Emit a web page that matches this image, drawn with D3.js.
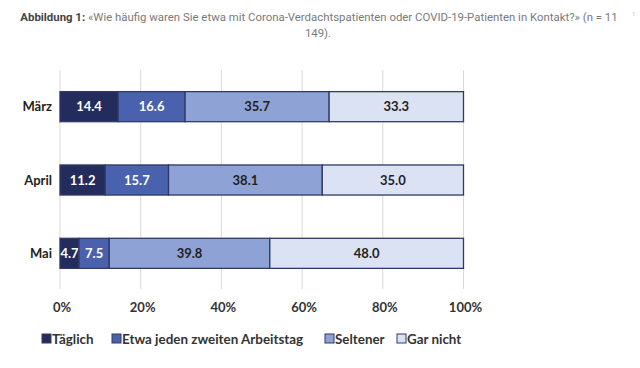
<!DOCTYPE html>
<html lang="de">
<head>
<meta charset="UTF-8">
<title>Abbildung 1</title>
<script src="https://cdn.jsdelivr.net/npm/d3@7"></script>
<style>
  body { margin: 0; background: #fff; }
  svg { display: block; }
</style>
</head>
<body>
<svg id="chart" width="640" height="368"></svg>
<script>
  const months   = ["März", "April", "Mai"];
  const series   = ["Täglich", "Etwa jeden zweiten Arbeitstag", "Seltener", "Gar nicht"];
  const taeglich = [14.4, 11.2, 4.7];
  const etwa     = [16.6, 15.7, 7.5];
  const seltener = [35.7, 38.1, 39.8];
  const garNicht = [33.3, 35.0, 48.0];
  const ticks    = [0, 20, 40, 60, 80, 100];

  const colors     = ["#232c5c", "#4a62ad", "#8fa2d5", "#dbe2f3"];
  const textColors = ["#fff", "#fff", "#1f1f1f", "#1f1f1f"];

  const rows = months.map((m, i) => ({
    month: m,
    "Täglich": taeglich[i],
    "Etwa jeden zweiten Arbeitstag": etwa[i],
    "Seltener": seltener[i],
    "Gar nicht": garNicht[i]
  }));

  const svg = d3.select("#chart");

  const x = d3.scaleLinear().domain([0, 100]).range([60, 463.5]);
  const y = d3.scaleBand().domain(months).range([70, 290]).paddingInner(0.59).paddingOuter(0.295);

  // title
  const title = svg.append("text")
    .attr("x", 319).attr("y", 21)
    .attr("text-anchor", "middle")
    .style("font-family", "Roboto, sans-serif")
    .style("font-size", "11.4px")
    .attr("fill", "#7a7a7a");
  title.append("tspan").attr("font-weight", "bold").attr("fill", "#444").text("Abbildung 1: ");
  title.append("tspan").text("«Wie häufig waren Sie etwa mit Corona-Verdachtspatienten oder COVID-19-Patienten in Kontakt?» (n = 11");
  svg.append("text")
    .attr("x", 318).attr("y", 37)
    .attr("text-anchor", "middle")
    .style("font-family", "Roboto, sans-serif")
    .style("font-size", "11.4px")
    .attr("fill", "#7a7a7a")
    .text("149).");
  svg.append("text")
    .attr("x", 632).attr("y", 16)
    .style("font-family", "Roboto, sans-serif")
    .style("font-size", "6px")
    .attr("fill", "#bbb")
    .text("1");

  // grid
  svg.append("g").selectAll("line")
    .data(ticks)
    .join("line")
      .attr("x1", d => x(d)).attr("x2", d => x(d))
      .attr("y1", 70).attr("y2", 289)
      .attr("stroke", "#d9d9d9")
      .attr("stroke-width", 1);

  // x axis labels
  svg.append("g").selectAll("text")
    .data(ticks)
    .join("text")
      .attr("x", d => x(d) + 2)
      .attr("y", 312)
      .attr("text-anchor", "middle")
      .style("font-family", "Lato, sans-serif")
      .style("font-weight", "bold")
      .style("font-size", "13px")
      .attr("fill", "#333")
      .text(d => d + "%");

  // y labels
  svg.append("g").selectAll("text")
    .data(months)
    .join("text")
      .attr("x", 52)
      .attr("y", d => y(d) + y.bandwidth() / 2 + 4.5)
      .attr("text-anchor", "end")
      .style("font-family", "Lato, sans-serif")
      .style("font-weight", "bold")
      .style("font-size", "13px")
      .attr("fill", "#222")
      .text(d => d);

  const stacked = d3.stack().keys(series)(rows);

  const layers = svg.append("g").selectAll("g")
    .data(stacked)
    .join("g");

  layers.selectAll("rect")
    .data((d, i) => d.map(p => ({ p, i })))
    .join("rect")
      .attr("x", d => x(d.p[0]))
      .attr("width", d => x(d.p[1]) - x(d.p[0]))
      .attr("y", d => y(d.p.data.month))
      .attr("height", y.bandwidth())
      .attr("fill", d => colors[d.i])
      .attr("stroke", "#2f3a66")
      .attr("stroke-width", 1.3);

  layers.selectAll("text")
    .data((d, i) => d.map(p => ({ p, i })))
    .join("text")
      .attr("x", d => (x(d.p[0]) + x(d.p[1])) / 2)
      .attr("y", d => y(d.p.data.month) + y.bandwidth() / 2 + 4.5)
      .attr("text-anchor", "middle")
      .style("font-family", "Lato, sans-serif")
      .style("font-weight", "bold")
      .style("font-size", "13px")
      .attr("fill", d => textColors[d.i])
      .text(d => (d.p[1] - d.p[0]).toFixed(1));

  // legend
  const legendX = [42, 112, 325, 397];
  const legend = svg.append("g").selectAll("g")
    .data(series)
    .join("g")
      .attr("transform", (d, i) => `translate(${legendX[i]},339)`);
  legend.append("rect")
    .attr("x", 0).attr("y", -5).attr("width", 9).attr("height", 9)
    .attr("fill", (d, i) => colors[i])
    .attr("stroke", "#2f3a66").attr("stroke-width", 1);
  legend.append("text")
    .attr("x", 10).attr("y", 4.5)
    .style("font-family", "Lato, sans-serif")
    .style("font-weight", "bold")
    .style("font-size", "13.4px")
    .attr("fill", "#333")
    .text(d => d);
</script>
</body>
</html>
